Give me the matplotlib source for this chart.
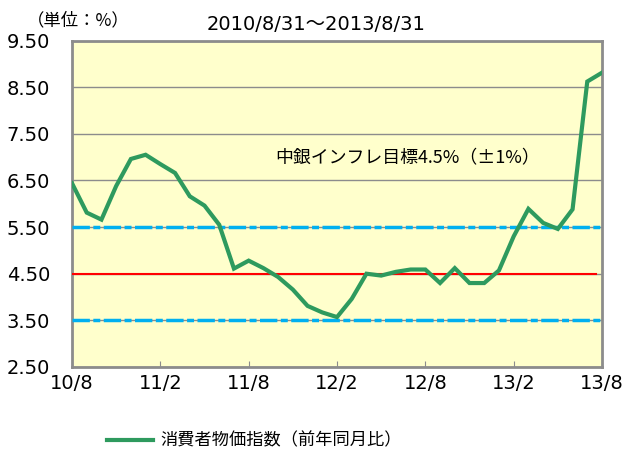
import matplotlib
matplotlib.use("Agg")
import matplotlib.pyplot as plt
import numpy as np

plt.rcParams['font.family'] = ['Noto Sans CJK JP', 'DejaVu Sans']

# monthly CPI y/y, 2010/8 .. 2013/8
cpi = [6.44, 5.81, 5.66, 6.38, 6.96, 7.05, 6.85, 6.66, 6.16, 5.96,
       5.55, 4.61, 4.78, 4.62, 4.43, 4.16, 3.81, 3.67, 3.57, 3.96,
       4.50, 4.46, 4.54, 4.59, 4.59, 4.30, 4.62, 4.30, 4.30, 4.57,
       5.30, 5.89, 5.59, 5.46, 5.88, 8.62, 8.81]
target = 4.5
band = [3.5, 5.5]
xtick_labels = ['10/8', '11/2', '11/8', '12/2', '12/8', '13/2', '13/8']
ytick_vals = [2.5, 3.5, 4.5, 5.5, 6.5, 7.5, 8.5, 9.5]

fig = plt.figure(figsize=(6.35, 4.5), dpi=100)
ax = fig.add_axes([72/635, 1 - 367/450, 530/635, 326.5/450])
ax.set_facecolor('#FFFFCC')

x = np.arange(len(cpi))
for yv in ytick_vals:
    ax.axhline(yv, color='#8c8c8c', lw=1.0, zorder=1)

ax.plot([0, 35.6], [target, target], color='#FF0000', lw=1.5, zorder=3)
for b in band:
    ax.axhline(b, color='#00B0F0', lw=2.5, ls=(0, (5, 1, 2, 1)), zorder=3)
ax.plot(x, cpi, color='#2E9A5E', lw=3, zorder=4, solid_joinstyle='miter')

ax.set_xlim(0, 36)
ax.set_ylim(2.5, 9.5)
ax.set_yticks(ytick_vals)
ax.set_yticklabels(['%.2f' % v for v in ytick_vals], fontsize=14,
                   family='DejaVu Sans', ha='left')
ax.set_xticks(np.arange(0, 37, 6))
ax.set_xticklabels(xtick_labels, fontsize=14, family='DejaVu Sans')
ax.tick_params(axis='x', direction='in', length=4, color='#8c8c8c', pad=5)
ax.tick_params(axis='y', length=0, pad=47)
for s in ax.spines.values():
    s.set_color('#8c8c8c')
    s.set_linewidth(2)

fig.text(275/635, 1 - 158/450, '中銀インフレ目標4.5%（±1%）',
         fontsize=12.9, va='center', ha='left')
fig.text(316/635, 1 - 25/450, '2010/8/31～2013/8/31', fontsize=14,
         family=['DejaVu Sans', 'Noto Sans CJK JP'], ha='center', va='center')
fig.text(78/635, 1 - 20/450, '（単位：%）', fontsize=12.5, ha='center', va='center')

fig.lines.append(plt.Line2D([107/635, 153/635], [1 - 440/450, 1 - 440/450],
                            transform=fig.transFigure, color='#2E9A5E', lw=3))
fig.text(160/635, 1 - 440/450, '消費者物価指数（前年同月比）', fontsize=12.4,
         ha='left', va='center')

fig.savefig('out.png', dpi=100)
